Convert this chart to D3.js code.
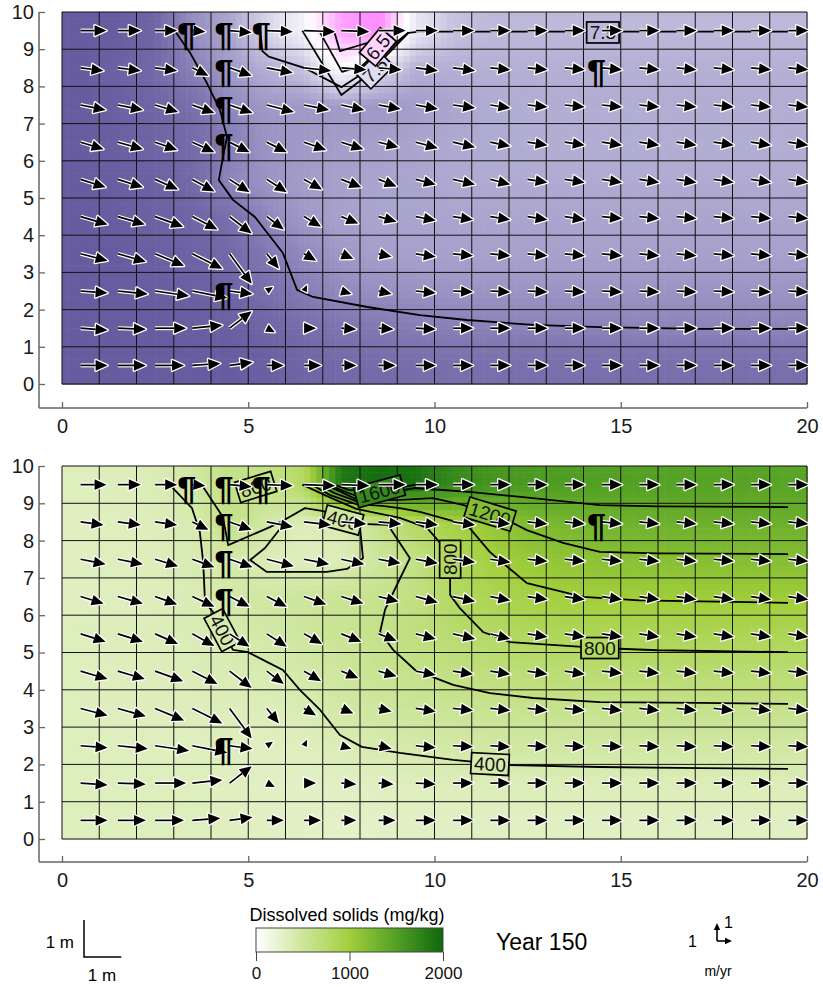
<!DOCTYPE html>
<html>
<head>
<meta charset="utf-8">
<script src="https://cdnjs.cloudflare.com/ajax/libs/d3/7.8.5/d3.min.js"></script>
<style>
body{margin:0;background:#fff;}
text{font-family:Arial,"Liberation Sans",sans-serif;}
</style>
</head>
<body>
<svg id="chart" width="823" height="987"></svg>
<script>
//tick labels
var xTicks = [0,5,10,15,20]
var yTicks = [0,1,2,3,4,5,6,7,8,9,10]
var barTicks = [0,1000,2000]

//top panel cell values, rows from y=9.5 down to y=0.5
var phGrid = [
	[7.95,7.95,7.9,7.7,7.6,7.35,7.1,6.5,6.35,7.2,7.45,7.5,7.5,7.5,7.5,7.5,7.5,7.5,7.5,7.5],
	[7.95,7.92,7.88,7.76,7.65,7.55,7.45,7.0,7.3,7.55,7.55,7.55,7.55,7.55,7.55,7.55,7.55,7.55,7.55,7.55],
	[7.95,7.93,7.9,7.85,7.73,7.66,7.66,7.66,7.67,7.64,7.6,7.57,7.56,7.56,7.56,7.56,7.56,7.56,7.56,7.56],
	[7.95,7.93,7.9,7.87,7.78,7.68,7.66,7.64,7.63,7.6,7.58,7.57,7.56,7.56,7.56,7.56,7.56,7.56,7.56,7.56],
	[7.95,7.94,7.92,7.88,7.74,7.68,7.64,7.62,7.6,7.6,7.58,7.57,7.57,7.57,7.57,7.57,7.57,7.57,7.57,7.57],
	[7.95,7.94,7.92,7.9,7.85,7.73,7.66,7.62,7.6,7.6,7.6,7.6,7.6,7.6,7.6,7.6,7.6,7.6,7.6,7.6],
	[7.95,7.95,7.93,7.91,7.88,7.8,7.72,7.66,7.63,7.62,7.62,7.62,7.62,7.62,7.62,7.62,7.62,7.62,7.62,7.62],
	[7.95,7.95,7.94,7.93,7.9,7.85,7.78,7.72,7.7,7.69,7.68,7.68,7.68,7.68,7.68,7.68,7.68,7.68,7.68,7.68],
	[7.95,7.95,7.95,7.94,7.93,7.9,7.86,7.82,7.8,7.78,7.77,7.76,7.76,7.76,7.76,7.75,7.75,7.75,7.75,7.75],
	[7.96,7.96,7.96,7.95,7.95,7.93,7.9,7.88,7.87,7.86,7.85,7.85,7.85,7.85,7.85,7.85,7.85,7.85,7.85,7.85]
]

//bottom panel dissolved solids (mg/kg), rows from y=9.5 down to y=0.5
var tdsGrid = [
	[330,340,370,460,620,600,800,1850,1950,1900,1700,1600,1550,1520,1500,1490,1480,1470,1465,1460],
	[320,330,350,395,620,460,350,390,590,800,960,1080,1210,1270,1300,1320,1330,1335,1336,1336],
	[320,330,345,390,450,360,330,350,500,620,810,980,1060,1110,1150,1165,1172,1177,1179,1179],
	[320,330,345,380,440,470,505,540,580,640,805,880,945,990,1005,1015,1020,1024,1026,1026],
	[330,340,355,375,410,450,500,550,595,660,730,790,830,850,860,868,872,875,875,875],
	[330,335,345,360,380,395,440,500,555,600,640,680,700,715,722,726,728,728,728,728],
	[330,330,335,340,345,350,385,450,490,520,545,560,570,575,580,584,586,586,586,586],
	[330,330,330,330,330,320,330,370,405,430,450,460,465,468,470,471,471,471,471,471],
	[330,330,330,330,320,300,290,300,320,340,355,360,360,360,360,360,360,360,360,360],
	[330,330,330,330,320,300,290,290,290,295,300,305,305,305,305,310,310,310,310,310]
]

//velocity (m/yr), rows from y=9.5 down to y=0.5
var velU = [
	[1.73,1.53,1.47,0.87,1.47,1.73,2.07,1.87,1.80,1.47,1.40,1.33,1.33,1.33,1.33,1.33,1.33,1.33,1.33,1.33],
	[1.53,1.53,1.47,1.07,1.47,1.73,1.80,1.67,1.53,1.47,1.47,1.33,1.33,1.33,1.33,1.33,1.33,1.33,1.33,1.33],
	[1.67,1.67,1.53,1.47,1.53,1.80,1.67,1.53,1.47,1.47,1.47,1.33,1.33,1.33,1.33,1.33,1.33,1.33,1.33,1.33],
	[1.53,1.67,1.47,1.47,1.33,1.33,1.47,1.47,1.33,1.47,1.47,1.33,1.33,1.33,1.33,1.33,1.33,1.33,1.33,1.33],
	[1.67,1.67,1.53,1.47,1.33,1.33,1.20,1.33,1.20,1.33,1.47,1.33,1.33,1.33,1.33,1.33,1.33,1.33,1.33,1.33],
	[1.80,1.80,1.87,1.67,1.47,1.13,1.13,1.13,1.20,1.33,1.33,1.33,1.33,1.33,1.33,1.33,1.33,1.33,1.33,1.33],
	[1.80,1.87,1.93,2.00,1.47,0.80,0.80,0.80,0.87,1.33,1.33,1.33,1.33,1.33,1.33,1.33,1.33,1.33,1.33,1.33],
	[1.80,2.00,2.27,2.33,1.53,0.40,0.20,0.67,0.87,1.33,1.33,1.33,1.33,1.33,1.33,1.33,1.33,1.33,1.33,1.33],
	[1.80,1.87,2.07,2.00,1.47,0.53,0.80,1.00,1.00,1.33,1.33,1.33,1.33,1.33,1.33,1.33,1.33,1.33,1.33,1.33],
	[1.80,1.87,1.93,1.87,1.53,1.13,1.13,1.00,1.13,1.33,1.33,1.33,1.33,1.33,1.33,1.33,1.33,1.33,1.33,1.33]
]
var velV = [
	[0,0,0,-0.06,-0.11,-0.06,-0.06,-0.06,0,0,0,0,0,0,0,0,0,0,0,0],
	[-0.17,-0.17,-0.17,-0.44,-0.44,-0.28,-0.17,-0.11,-0.11,-0.17,-0.17,-0.11,-0.11,-0.11,-0.11,-0.11,-0.11,-0.11,-0.11,-0.11],
	[-0.28,-0.28,-0.39,-0.44,-0.44,-0.39,-0.28,-0.28,-0.22,-0.22,-0.17,-0.17,-0.11,-0.11,-0.11,-0.11,-0.11,-0.11,-0.11,-0.11],
	[-0.39,-0.39,-0.44,-0.56,-0.56,-0.56,-0.44,-0.39,-0.28,-0.33,-0.28,-0.22,-0.17,-0.17,-0.17,-0.17,-0.17,-0.17,-0.17,-0.17],
	[-0.44,-0.44,-0.56,-0.67,-0.72,-0.72,-0.56,-0.44,-0.39,-0.28,-0.28,-0.28,-0.17,-0.17,-0.17,-0.17,-0.17,-0.17,-0.17,-0.17],
	[-0.44,-0.44,-0.56,-0.72,-0.94,-0.72,-0.56,-0.39,-0.28,-0.22,-0.17,-0.17,-0.17,-0.17,-0.11,-0.11,-0.11,-0.11,-0.11,-0.11],
	[-0.39,-0.44,-0.67,-0.83,-1.67,-0.83,-0.39,-0.28,-0.17,-0.17,-0.11,-0.11,-0.11,-0.11,-0.11,-0.11,-0.11,-0.11,-0.11,-0.11],
	[-0.11,-0.17,-0.28,-0.39,-0.17,0.22,0.33,-0.17,-0.17,-0.11,-0.06,-0.06,-0.06,-0.06,-0.06,-0.06,-0.06,-0.06,-0.06,-0.06],
	[-0.11,-0.06,0,0.17,0.94,-0.22,0,-0.06,-0.06,-0.06,0,0,0,0,0,0,0,0,0,0],
	[0,0,0,0.11,0.17,0,0,0,0,0,0,0,0,0,0,0,0,0,0,0]
]

//wells
var wells = [[3.35,9.5],[4.35,9.5],[5.35,9.5],[4.35,8.5],[4.35,7.5],[4.35,6.5],[4.35,2.5],[14.35,8.5]]

//top panel contour lines (x,y)
var phContours = [
	[[3.01,9.52],[3.44,8.9],[3.89,8.09],[4.24,7.37],[4.43,6.64],[4.32,6.1],[4.21,5.48],[4.59,4.95],[5.18,4.49],[5.93,3.52],[6.31,2.53],[6.74,2.34],[8.2,2.07],[9.61,1.85],[10.87,1.72],[12.64,1.59],[14.44,1.53],[17.13,1.48],[19.49,1.48]],
	[[5.32,9.5],[5.38,8.95],[5.55,8.8],[6.5,8.5],[7.5,7.98],[8.3,8.5],[9.0,9.2],[9.3,9.45]],
	[[6.45,9.5],[7.5,7.77],[8.2,8.3],[9.3,9.44],[9.6,9.47],[12,9.47],[19.49,9.47]],
	[[6.9,9.5],[7.52,8.39],[8.05,8.55],[8.9,9.35]],
	[[7.3,9.5],[7.46,8.95],[8.3,9.2],[8.75,9.45]]
]
//labels: x, y, angle, text
var phLabels = [[14.52,9.45,0,'7.5'],[8.4,8.44,-45,'7.5'],[8.48,9.06,-50,'6.5']]

//bottom panel contour lines
var tdsContours = [
	[[2.9,9.49],[3.49,8.87],[3.7,8.23],[3.79,7.43],[3.84,6.35],[4.05,6.09],[4.59,5.07],[4.99,5.01],[5.5,4.75],[5.93,4.53],[6.39,3.99],[6.93,3.46],[7.46,2.79],[8.05,2.47],[9.07,2.31],[10.5,2.12],[12.03,1.98],[14.44,1.93],[17.13,1.9],[19.49,1.88]],
	[[3.79,9.44],[4.32,8.63],[4.46,7.88],[5.58,8.36],[5.93,8.53],[6.52,8.87],[7.01,8.79],[7.46,8.61],[8.0,8.36],[8.08,7.53],[7.65,7.24],[7.11,7.16],[5.5,7.16],[5.05,7.48],[5.45,7.8],[5.85,8.31]],
	[[8.0,8.45],[8.75,8.42],[9.34,7.53],[8.99,6.81],[8.67,6.14],[8.54,5.55],[8.89,5.07],[9.48,4.53],[9.96,4.34],[10.5,4.13],[11.49,3.91],[12.64,3.78],[14.44,3.67],[17.13,3.65],[19.49,3.62]],
	[[6.45,9.5],[7.1,9.2],[7.9,8.85],[9.07,8.61],[9.8,8.34],[10.15,7.94],[10.42,7.53],[10.42,6.94],[10.42,6.54],[10.68,6.19],[11.3,5.55],[12.03,5.28],[13.96,5.15],[14.44,5.12],[16,5.06],[19.49,5.01]],
	[[6.7,9.5],[7.2,9.22],[7.9,8.98],[8.6,8.93],[9.07,8.87],[9.61,8.77],[10.87,8.42],[11.49,7.69],[12.48,6.86],[13.99,6.49],[15.5,6.4],[19.49,6.33]],
	[[6.9,9.5],[7.3,9.28],[7.9,9.06],[8.5,9.08],[9.07,9.09],[9.96,9.14],[10.76,8.96],[11.49,8.74],[12.21,8.42],[12.48,8.28],[13.45,7.94],[14.44,7.7],[16,7.66],[19.49,7.64]],
	[[7.05,9.5],[7.5,9.3],[7.9,9.11],[8.6,9.25],[9.48,9.41],[11,9.3],[12.64,9.14],[14.44,8.95],[16,8.92],[19.49,8.9]],
	[[7.15,9.5],[7.55,9.33],[7.9,9.2],[8.52,9.32],[9.2,9.45],[9.5,9.5]],
	[[7.3,9.5],[7.7,9.36],[8.1,9.32],[8.9,9.5]]
]
var tdsLabels = [[4.3,5.6,62,'400'],[11.49,2.01,3,'400'],[7.54,8.55,15,'400'],[10.42,7.5,-90,'800'],[14.44,5.12,0,'800'],[11.49,8.71,17,'1200'],[8.52,9.32,-15,'1600'],[5.2,9.44,-17,'800']]

//colour scales
var phColor = d3.scaleLinear()
	.domain([6.4,6.7,7.0,7.3,7.5,7.65,7.8,7.95])
	.range(['#ff8eff','#ffc8ff','#ffffff','#dedbed','#bdb9da','#a19bc8','#8178b2','#675c9f'])
	.clamp(true)
var tdsColor = d3.scaleLinear()
	.domain([0,500,1000,1500,2000])
	.range(['#ffffff','#cde69c','#a2cf3c','#52a024','#0d670d'])
	.clamp(true)

var svg = d3.select('#chart')

var x = d3.scaleLinear().domain([0,20]).range([62,807])
//arrow scales, pixels per m/yr
var uScale = d3.scaleLinear().domain([0,1]).range([0,15])
var vScale = d3.scaleLinear().domain([0,1]).range([0,18])

var panels = [
	{top:12, bottom:384, axisY:408, grid:phGrid, color:phColor, contours:phContours, labels:phLabels},
	{top:466, bottom:839, axisY:862, grid:tdsGrid, color:tdsColor, contours:tdsContours, labels:tdsLabels}
]

//bilinear value from the cell centre grid
function valueAt(grid, px, py) {
	var fx = Math.max(0, Math.min(19, px - 0.5))
	var fy = Math.max(0, Math.min(9, py - 0.5))
	var i0 = Math.floor(fx), j0 = Math.floor(fy)
	var i1 = Math.min(i0 + 1, 19), j1 = Math.min(j0 + 1, 9)
	var tx = fx - i0, ty = fy - j0
	function g(i, j) { return grid[9 - j][i] }
	var a = g(i0,j0) * (1 - tx) + g(i1,j0) * tx
	var b = g(i0,j1) * (1 - tx) + g(i1,j1) * tx
	return a * (1 - ty) + b * ty
}

function arrowShapes(x0, y0, dx, dy, maxHead) {
	var len = Math.sqrt(dx*dx + dy*dy)
	if (len < 0.5) return null
	var ux = dx/len, uy = dy/len
	var h = Math.min(maxHead, len), w = h * 0.45
	var tx = x0 + dx, ty = y0 + dy
	var bx = tx - ux*h, by = ty - uy*h
	return {
		shaft: len > h ? 'M'+x0+','+y0+'L'+bx+','+by : '',
		head: 'M'+tx+','+ty+'L'+(bx - uy*w)+','+(by + ux*w)+'L'+(bx + uy*w)+','+(by - ux*w)+'Z'
	}
}

panels.forEach(drawPanel)

function drawPanel(p) {
	var y = d3.scaleLinear().domain([0,10]).range([p.bottom, p.top])
	var g = svg.append('g')

	//heatmap, sub-sampled cells
	var sub = 6, cells = []
	d3.range(20*sub).forEach(function(i){
		d3.range(10*sub).forEach(function(j){
			var cx = (i + 0.5)/sub, cy = (j + 0.5)/sub
			cells.push({x0:i/sub, y0:(j+1)/sub, v:valueAt(p.grid, cx, cy)})
		})
	})
	g.append('g').selectAll('rect')
		.data(cells)
		.enter()
		.append('rect')
		.attr('x', function(d){ return x(d.x0) })
		.attr('y', function(d){ return y(d.y0) })
		.attr('width', x(1/sub) - x(0) + 0.6)
		.attr('height', y(0) - y(1/sub) + 0.6)
		.attr('fill', function(d){ return p.color(d.v) })

	//grid lines
	g.append('g').selectAll('line')
		.data(d3.range(0,21))
		.enter().append('line')
		.attr('x1', function(d){ return x(d) }).attr('x2', function(d){ return x(d) })
		.attr('y1', y(0)).attr('y2', y(10))
		.attr('stroke', '#111').attr('stroke-width', 1)
	g.append('g').selectAll('line')
		.data(d3.range(0,11))
		.enter().append('line')
		.attr('x1', x(0)).attr('x2', x(20))
		.attr('y1', function(d){ return y(d) }).attr('y2', function(d){ return y(d) })
		.attr('stroke', '#111').attr('stroke-width', 1)

	//contours
	var line = d3.line().x(function(d){ return x(d[0]) }).y(function(d){ return y(d[1]) })
	g.append('g').selectAll('path')
		.data(p.contours)
		.enter().append('path')
		.attr('d', line)
		.attr('fill', 'none')
		.attr('stroke', '#000')
		.attr('stroke-width', 1.8)
		.attr('stroke-linejoin', 'round')

	//contour labels
	g.append('g').selectAll('g')
		.data(p.labels)
		.enter().append('g')
		.attr('transform', function(d){ return 'translate('+x(d[0])+','+y(d[1])+') rotate('+d[2]+')' })
		.each(function(d){
			var el = d3.select(this)
			var t = el.append('text')
				.attr('text-anchor', 'middle')
				.attr('dy', '0.36em')
				.attr('font-size', 19)
				.attr('fill', '#111')
				.text(d[3])
			var bb = t.node().getBBox()
			el.insert('rect', 'text')
				.attr('x', bb.x - 3).attr('y', -10.5)
				.attr('width', bb.width + 6).attr('height', 21)
				.attr('fill', p.color(valueAt(p.grid, d[0], d[1])))
				.attr('stroke', '#000').attr('stroke-width', 1.7)
		})

	//velocity arrows
	var arrows = []
	velU.forEach(function(row, r){
		row.forEach(function(u, i){
			var a = arrowShapes(x(i + 0.5), y(9.5 - r), uScale(u), -vScale(velV[r][i]), 12)
			if (a) arrows.push(a)
		})
	})
	var ag = g.append('g')
	ag.selectAll('.halo-shaft').data(arrows).enter().append('path')
		.attr('d', function(d){ return d.shaft })
		.attr('stroke', '#fff').attr('stroke-width', 4).attr('fill', 'none')
	ag.selectAll('.halo-head').data(arrows).enter().append('path')
		.attr('d', function(d){ return d.head })
		.attr('fill', '#fff').attr('stroke', '#fff').attr('stroke-width', 2.6).attr('stroke-linejoin', 'round')
	ag.selectAll('.shaft').data(arrows).enter().append('path')
		.attr('d', function(d){ return d.shaft })
		.attr('stroke', '#000').attr('stroke-width', 1.7).attr('fill', 'none')
	ag.selectAll('.head').data(arrows).enter().append('path')
		.attr('d', function(d){ return d.head })
		.attr('fill', '#000')

	//wells
	g.append('g').selectAll('text')
		.data(wells)
		.enter().append('text')
		.attr('x', function(d){ return x(d[0]) })
		.attr('y', function(d){ return y(d[1]) + 15 })
		.attr('text-anchor', 'middle')
		.attr('font-size', 34)
		.attr('font-weight', 'bold')
		.attr('fill', '#000')
		.text('\u00b6')

	//axes
	var yaxis = g.append('g')
		.attr('transform', 'translate(39,0)')
		.call(d3.axisLeft(y).tickValues(yTicks).tickSizeInner(-6).tickSizeOuter(0).tickPadding(5))
	var xaxis = g.append('g')
		.attr('transform', 'translate(0,'+p.axisY+')')
		.call(d3.axisBottom(x).tickValues(xTicks).tickSizeInner(-6).tickSizeOuter(0).tickPadding(11))
	;[yaxis, xaxis].forEach(function(ax){
		ax.select('.domain').remove()
		ax.selectAll('line').attr('stroke', '#666').attr('stroke-width', 1.3)
		ax.selectAll('text').attr('font-size', 20).attr('fill', '#1a1a1a')
			.attr('font-family', 'Arial, "Liberation Sans", sans-serif')
	})
	g.append('line').attr('x1', 39).attr('x2', 39).attr('y1', y(10)).attr('y2', p.axisY)
		.attr('stroke', '#666').attr('stroke-width', 1.5)
	g.append('line').attr('x1', 39).attr('x2', x(20)).attr('y1', p.axisY).attr('y2', p.axisY)
		.attr('stroke', '#666').attr('stroke-width', 1.5)
}

//legend: length scale
var leg = svg.append('g')
leg.append('path')
	.attr('d', 'M84,920V957H'+(84 + x(1) - x(0)))
	.attr('fill', 'none').attr('stroke', '#000').attr('stroke-width', 1.5)
leg.append('text').attr('x', 74).attr('y', 948).attr('text-anchor', 'end').attr('font-size', 17).text('1 m')
leg.append('text').attr('x', 102).attr('y', 981).attr('text-anchor', 'middle').attr('font-size', 17).text('1 m')

//legend: colour bar
var barX = d3.scaleLinear().domain([0,2000]).range([256,443])
var defs = svg.append('defs')
var grad = defs.append('linearGradient').attr('id', 'tdsgrad')
tdsColor.domain().forEach(function(v){
	grad.append('stop').attr('offset', (v/2000*100)+'%').attr('stop-color', tdsColor(v))
})
leg.append('text').attr('x', 347).attr('y', 921).attr('text-anchor', 'middle').attr('font-size', 18)
	.text('Dissolved solids (mg/kg)')
leg.append('rect').attr('x', barX(0)).attr('y', 928).attr('width', barX(2000) - barX(0)).attr('height', 24)
	.attr('fill', 'url(#tdsgrad)').attr('stroke', '#444').attr('stroke-width', 1)
var barAxis = leg.append('g')
	.attr('transform', 'translate(0,952)')
	.call(d3.axisBottom(barX).tickValues(barTicks).tickFormat(d3.format('d')).tickSize(9).tickPadding(6))
barAxis.select('.domain').remove()
barAxis.selectAll('line').attr('stroke', '#444')
barAxis.selectAll('text').attr('font-size', 17).attr('fill', '#111')
	.attr('font-family', 'Arial, "Liberation Sans", sans-serif')

leg.append('text').attr('x', 496).attr('y', 950).attr('font-size', 23).text('Year 150')

//legend: velocity scale
var vx = 717, vy = 941
var up = arrowShapes(vx, vy, 0, -vScale(1), 7)
var right = arrowShapes(vx, vy, uScale(1), 0, 7)
;[up, right].forEach(function(a){
	leg.append('path').attr('d', a.shaft).attr('stroke', '#000').attr('stroke-width', 1.6).attr('fill', 'none')
	leg.append('path').attr('d', a.head).attr('fill', '#000')
})
leg.append('text').attr('x', 697).attr('y', 947).attr('text-anchor', 'end').attr('font-size', 16).text('1')
leg.append('text').attr('x', 724).attr('y', 928).attr('font-size', 16).text('1')
leg.append('text').attr('x', 718).attr('y', 976).attr('text-anchor', 'middle').attr('font-size', 14).text('m/yr')
</script>
</body>
</html>
